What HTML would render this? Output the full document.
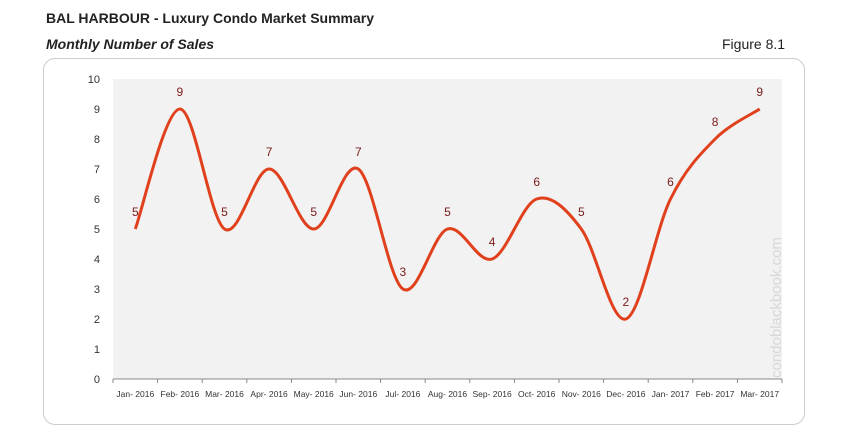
<!DOCTYPE html>
<html><head><meta charset="utf-8"><style>
body{margin:0;width:847px;height:429px;background:#fff;font-family:"Liberation Sans",sans-serif;position:relative;overflow:hidden}
.t{position:absolute;left:46px;top:10px;font-size:14px;font-weight:bold;color:#222}
.s{position:absolute;left:46px;top:36px;font-size:14px;font-weight:bold;font-style:italic;color:#222}
.f{position:absolute;left:722px;top:36px;font-size:14px;color:#222}
.card{position:absolute;left:43px;top:58px;width:760px;height:365px;border:1.5px solid #ccc;border-radius:12px}
svg{position:absolute;left:0;top:0}
</style></head><body>
<div class="t">BAL HARBOUR - Luxury Condo Market Summary</div>
<div class="s">Monthly Number of Sales</div>
<div class="f">Figure 8.1</div>
<div class="card"></div>
<svg width="847" height="429" id="g">
<rect x="113" y="79" width="669" height="300" fill="#f2f2f2"/>
</svg>
<script>
var v=[5,9,5,7,5,7,3,5,4,6,5,2,6,8,9];
var lab=["Jan- 2016","Feb- 2016","Mar- 2016","Apr- 2016","May- 2016","Jun- 2016","Jul- 2016","Aug- 2016","Sep- 2016","Oct- 2016","Nov- 2016","Dec- 2016","Jan- 2017","Feb- 2017","Mar- 2017"];
var s='',w=669/15;
for(var i=0;i<=10;i++){var y=379-30*i;s+='<text x="100" y="'+(y+4)+'" font-size="11" fill="#333" text-anchor="end" font-family="Liberation Sans">'+i+'</text>';}
s+='<line x1="113" y1="379" x2="782" y2="379" stroke="#888" stroke-width="1"/>';
for(var i=0;i<=15;i++){var x=113+w*i;s+='<line x1="'+x+'" y1="379" x2="'+x+'" y2="383" stroke="#888"/>';}
var P=v.map(function(d,i){return [113+w*(i+.5),379-30*d]});
var d='M'+P[0][0]+' '+P[0][1];
for(var i=0;i<P.length-1;i++){var p0=P[i-1]||P[i],p1=P[i],p2=P[i+1],p3=P[i+2]||p2;
var c1=[p1[0]+(p2[0]-p0[0])/6,p1[1]+(p2[1]-p0[1])/6],c2=[p2[0]-(p3[0]-p1[0])/6,p2[1]-(p3[1]-p1[1])/6];
d+=' C'+c1+' '+c2+' '+p2;}
s+='<path d="'+d+'" fill="none" stroke="#e0401c" stroke-width="3"/>';
P.forEach(function(p,i){s+='<text x="'+p[0]+'" y="'+(p[1]-13)+'" font-size="12" fill="#7a1a1a" text-anchor="middle" font-family="Liberation Sans">'+v[i]+'</text>';
s+='<text x="'+p[0]+'" y="397" font-size="8.5" fill="#333" text-anchor="middle" font-family="Liberation Sans">'+lab[i]+'</text>';});
s+='<text transform="translate(781,378) rotate(-90)" font-size="15" fill="#d8d8d8" font-family="Liberation Sans">condoblackbook.com</text>';
document.getElementById('g').innerHTML+=s;
</script>
</body></html>
